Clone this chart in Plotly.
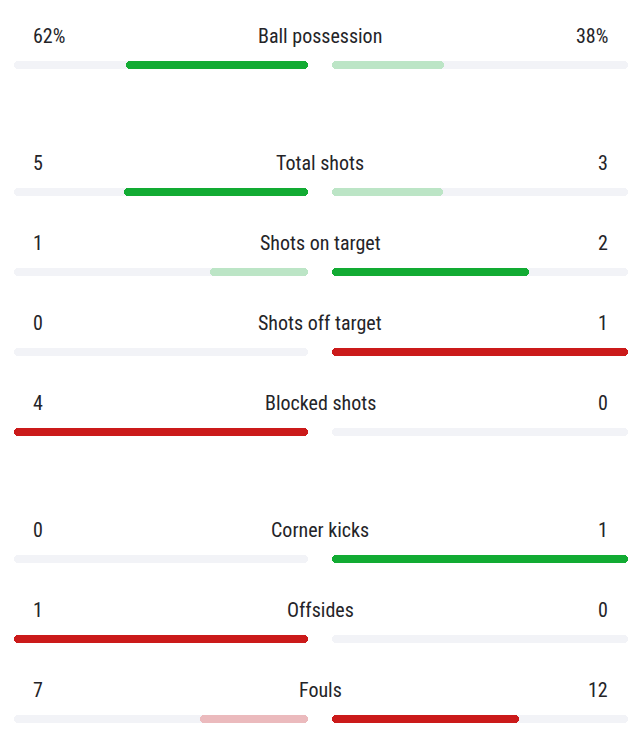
import plotly.graph_objects as go

# ---- data ----
labels = ["Ball possession", "Total shots", "Shots on target", "Shots off target",
          "Blocked shots", "Corner kicks", "Offsides", "Fouls"]
home_text = ["62%", "5", "1", "0", "4", "0", "1", "7"]
away_text = ["38%", "3", "2", "1", "0", "1", "0", "12"]
home_vals = [62, 5, 1, 0, 4, 0, 1, 7]
away_vals = [38, 3, 2, 1, 0, 1, 0, 12]
groups = [0, 1, 1, 1, 1, 2, 2, 2]
# "good" stats are green, "bad" stats red
good = [True, True, True, False, False, True, False, False]

# ---- styling / layout (page has an 8px body margin) ----
OFF = 8
W, H = 640 - OFF, 741 - OFF
GREEN, LGREEN = "#12ab33", "#bce5c6"
RED, LRED = "#cb1a1a", "#ebbabd"
TRACK = "#f2f3f7"
TXT = "#242428"
FONT = "Roboto Condensed, Liberation Sans Narrow, DejaVu Sans Condensed, Roboto, sans-serif"

ROW0, ROWSTEP, GROUPGAP = 65 - OFF, 80, 47
ys = [ROW0 + i * ROWSTEP + g * GROUPGAP for i, g in enumerate(groups)]

home_frac, away_frac, home_col, away_col = [], [], [], []
for h, a, gd in zip(home_vals, away_vals, good):
    t = h + a
    home_frac.append(h / t if t else 0)
    away_frac.append(a / t if t else 0)
    dark, light = (GREEN, LGREEN) if gd else (RED, LRED)
    home_col.append(dark if h >= a else light)
    away_col.append(dark if a >= h else light)

BW = 8
R = 4
EPS = 0.03  # overlap of the two halves (axis fraction) to hide the seam
fig = go.Figure()
common = dict(orientation="h", width=BW, hoverinfo="skip", showlegend=False)


def pill(fracs, colors, axis):
    # each segment [0, f] is drawn as two overlapping half bars so that
    # both outer ends get rounded corners
    mids = [f / 2 for f in fracs]
    ov = [min(EPS, f / 2) for f in fracs]
    # outer half: from mid-ov to f
    fig.add_trace(go.Bar(x=[f - m + o for f, m, o in zip(fracs, mids, ov)],
                         base=[m - o for m, o in zip(mids, ov)], y=ys,
                         marker=dict(color=colors, cornerradius=R, line=dict(width=0)),
                         xaxis=axis, yaxis="y", **common))
    # inner half: from mid+ov down to 0
    fig.add_trace(go.Bar(x=[-(m + o) for m, o in zip(mids, ov)],
                         base=[m + o for m, o in zip(mids, ov)], y=ys,
                         marker=dict(color=colors, cornerradius=R, line=dict(width=0)),
                         xaxis=axis, yaxis="y", **common))


pill([1] * len(ys), [TRACK] * len(ys), "x")
pill(home_frac, home_col, "x")
pill([1] * len(ys), [TRACK] * len(ys), "x2")
pill(away_frac, away_col, "x2")

ann = []
for y, lab, ht, at in zip(ys, labels, home_text, away_text):
    ty = y - 29
    ann.append(dict(x=(31 - OFF) / W, y=ty, xref="paper", yref="y", text=ht, showarrow=False,
                    xanchor="left", yanchor="middle"))
    ann.append(dict(x=(320 - OFF) / W, y=ty, xref="paper", yref="y", text=lab, showarrow=False,
                    xanchor="center", yanchor="middle"))
    ann.append(dict(x=(610 - OFF) / W, y=ty, xref="paper", yref="y", text=at, showarrow=False,
                    xanchor="right", yanchor="middle"))

ax = dict(showgrid=False, zeroline=False, showticklabels=False, showline=False, fixedrange=True)
fig.update_layout(
    width=W, height=H,
    margin=dict(l=0, r=0, t=0, b=0),
    paper_bgcolor="white", plot_bgcolor="white",
    barmode="overlay", bargap=0,
    font=dict(family=FONT, size=20, color=TXT),
    xaxis=dict(domain=[(14 - OFF) / W, (308 - OFF) / W], range=[1, 0], anchor="y", **ax),
    xaxis2=dict(domain=[(332 - OFF) / W, (628 - OFF) / W], range=[0, 1], anchor="y", **ax),
    yaxis=dict(domain=[0, 1], range=[H, 0], **ax),
    annotations=ann,
)
fig.write_html("out.html")
